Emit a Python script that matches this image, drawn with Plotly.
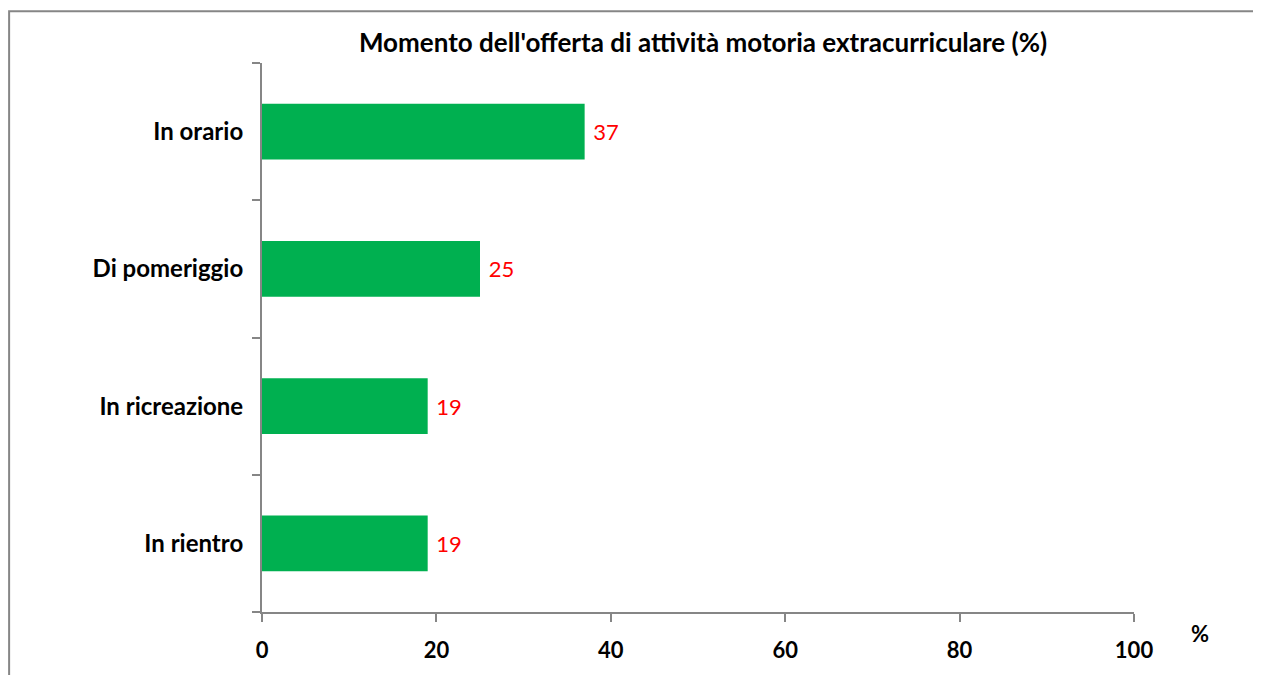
import plotly.graph_objects as go

# dati
categorie = ['In orario', 'Di pomeriggio', 'In ricreazione', 'In rientro']
valori = [37, 25, 19, 19]
tick_x = [0, 20, 40, 60, 80, 100]

VERDE = '#00B050'
ROSSO = '#FF0000'
GRIGIO = '#868686'
FONT = 'Lato, Open Sans, sans-serif'

fig = go.Figure(go.Bar(
    x=valori,
    y=categorie,
    orientation='h',
    marker=dict(color=VERDE, line=dict(width=0)),
    texttemplate=' %{x}',
    textposition='outside',
    textfont=dict(family=FONT, size=22, color=ROSSO),
    cliponaxis=False,
))

# la pagina ha 8px di margine nel body: figura un po' più piccola
fig.update_layout(
    width=1253, height=667,
    paper_bgcolor='white', plot_bgcolor='white',
    margin=dict(l=254, r=127, t=55, b=61),
    bargap=0.594,
    showlegend=False,
    title=dict(text="<b>Momento dell'offerta di attività motoria extracurriculare (%)</b>",
               x=0.5547, xanchor='center', y=0.948, yanchor='middle',
               font=dict(family=FONT, size=26, color='black')),
    font=dict(family=FONT, color='black'),
    xaxis=dict(range=[0, 100], tickvals=tick_x, ticks='outside', ticklen=8,
               tickcolor=GRIGIO, tickwidth=2, showline=True, linecolor=GRIGIO, linewidth=2,
               showgrid=False, zeroline=False, ticklabelstandoff=10,
               tickfont=dict(family=FONT, size=22, color='black', weight='bold')),
    yaxis=dict(categoryorder='array', categoryarray=categorie[::-1],
               ticks='outside', tickson='boundaries', ticklen=8, tickcolor=GRIGIO,
               tickwidth=2, showline=True, linecolor=GRIGIO, linewidth=2,
               showgrid=False, ticklabelstandoff=12,
               tickfont=dict(family=FONT, size=24, color='black', weight='bold')),
    annotations=[dict(text='<b>%</b>', x=1.0757, y=-0.04, xref='paper', yref='paper',
                      xanchor='center', yanchor='middle', showarrow=False,
                      font=dict(family=FONT, size=22, color='black'))],
    shapes=[dict(type='rect', xref='paper', yref='paper',
                 x0=-0.29, x1=1.16, y0=-0.13, y1=1.0944,
                 line=dict(color=GRIGIO, width=2), fillcolor='rgba(0,0,0,0)', layer='below')],
)

fig.write_html('out.html')
